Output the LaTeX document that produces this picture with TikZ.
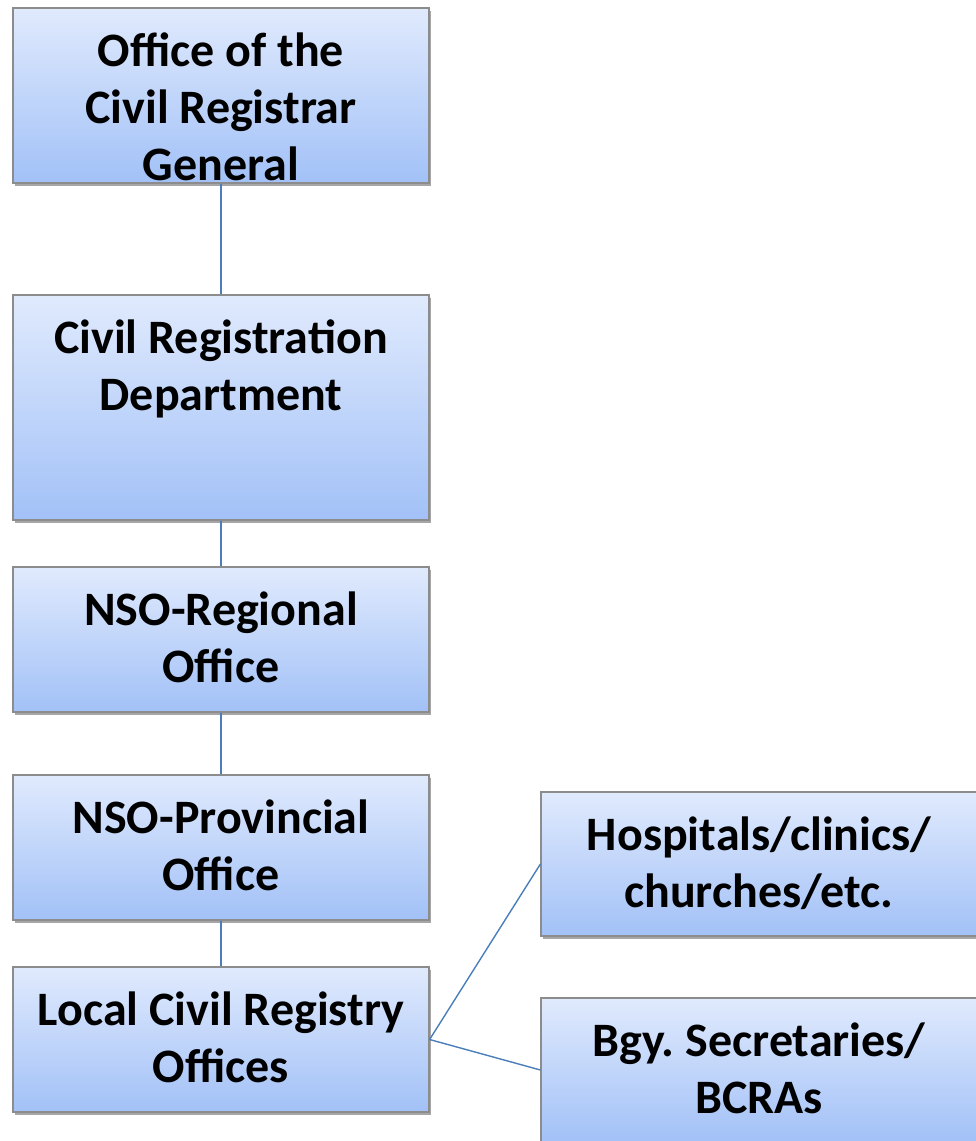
\documentclass[tikz,border=0pt]{standalone}
\usepackage{fontspec}
\setmainfont{Carlito}
\usetikzlibrary{shadows}
\definecolor{boxtop}{HTML}{E0EAFD}
\definecolor{boxbottom}{HTML}{A2C1F7}
\definecolor{boxline}{HTML}{8C8C8C}
\definecolor{linkline}{HTML}{4A7EBB}
\begin{document}
\begin{tikzpicture}[x=1pt,y=-1pt,
		orgbox/.style={rectangle,draw=boxline,line width=1.2pt,top color=boxtop,bottom color=boxbottom,
			minimum width=416pt,inner sep=0pt,
			drop shadow={shadow xshift=2pt,shadow yshift=-2.5pt,opacity=.35,fill=black}},
		boxtext/.style={anchor=north,align=center,inner sep=0pt,yshift=-25pt,
			font=\fontsize{48}{57}\selectfont\bfseries,execute at begin node={\rule{0pt}{34pt}}},
		link/.style={draw=linkline,line width=1.4pt}]
	\useasboundingbox (0,0) rectangle (976,1141);
	% left column
	\node[orgbox,minimum height=175pt] (ocrg) at (221,95.5) {};
	\node[orgbox,minimum height=225pt] (crd) at (221,407.5) {};
	\node[orgbox,minimum height=145pt] (nsor) at (221,639.5) {};
	\node[orgbox,minimum height=145pt] (nsop) at (221,847.5) {};
	\node[orgbox,minimum height=145pt] (lcro) at (221,1039.5) {};
	% right column
	\node[orgbox,minimum width=436pt,minimum height=144pt] (hosp) at (759,864) {};
	\node[orgbox,minimum width=436pt,minimum height=144pt] (bgy) at (759,1070) {};
	% texts
	\node[boxtext] (ocrg-t) at (ocrg.north) {Office of the\\Civil Registrar\\General};
	\node[boxtext] (crd-t) at (crd.north) {Civil Registration\\Department};
	\node[boxtext] (nsor-t) at (nsor.north) {NSO-Regional\\Office};
	\node[boxtext] (nsop-t) at (nsop.north) {NSO-Provincial\\Office};
	\node[boxtext] (lcro-t) at (lcro.north) {Local Civil Registry\\Offices};
	\node[boxtext] (hosp-t) at (hosp.north) {Hospitals/clinics/\\churches/etc.};
	\node[boxtext] (bgy-t) at (bgy.north) {Bgy.\ Secretaries/\\BCRAs};
	% connectors
	\draw[link] (ocrg.south) -- (crd.north);
	\draw[link] (crd.south) -- (nsor.north);
	\draw[link] (nsor.south) -- (nsop.north);
	\draw[link] (nsop.south) -- (lcro.north);
	\draw[link] (lcro.east) -- (hosp.west);
	\draw[link] (lcro.east) -- (bgy.west);
\end{tikzpicture}
\end{document}
